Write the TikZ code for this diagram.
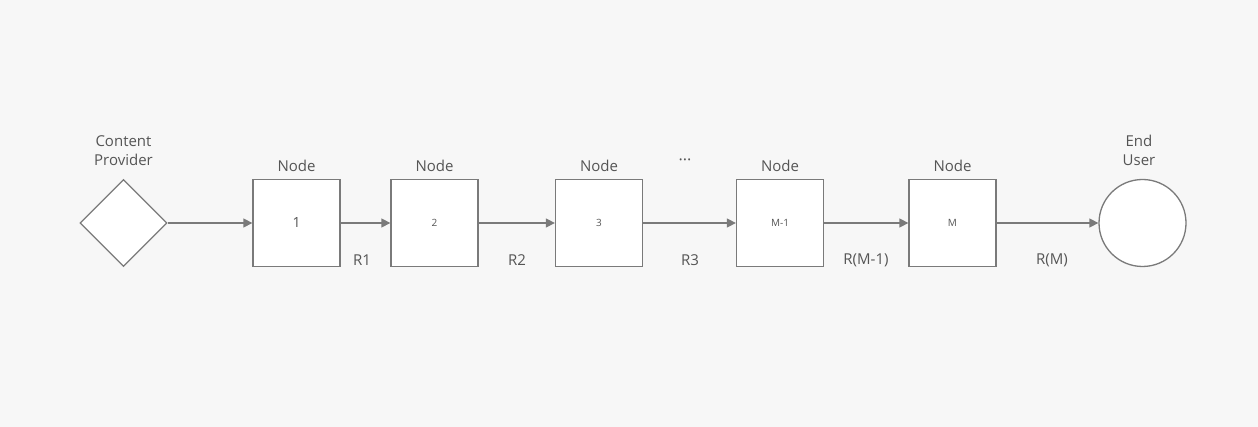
\documentclass[tikz,border=0pt]{standalone}
\usepackage{fontspec}
\setmainfont{Open Sans}
\usetikzlibrary{shapes.geometric,arrows.meta}
\definecolor{bg}{HTML}{F7F7F7}
\definecolor{ln}{HTML}{7A7A7A}
\definecolor{tx}{HTML}{555555}
\tikzset{
  box/.style={draw=ln, line width=1.3pt, fill=white, minimum width=87pt, minimum height=87pt, inner sep=0pt, text=tx, font=\fontsize{10}{12}\selectfont},
  lbl/.style={text=tx, font=\fontsize{15}{19}\selectfont, align=center, inner sep=0pt},
  conn/.style={draw=ln, line width=1.3pt, -{Triangle[length=9pt,width=9pt]}},
}
\begin{document}
\begin{tikzpicture}[x=1pt,y=-1pt]
\fill[bg] (0,0) rectangle (1258,427);
\useasboundingbox (0,0) rectangle (1258,427);
\node[draw=ln, line width=1.3pt, fill=white, diamond, minimum width=87pt, minimum height=87pt, inner sep=0pt] (cp) at (123.5,223) {};
\node[box, font=\fontsize{14}{17}\selectfont] (n1) at (296.5,223) {1};
\node[box] (n2) at (434.5,223) {2};
\node[box] (n3) at (599,223) {3};
\node[box] (nm1) at (780,223) {M-1};
\node[box] (nm) at (952.5,223) {M};
\node[draw=ln, line width=1.3pt, fill=white, circle, minimum size=87pt, inner sep=0pt] (eu) at (1142.5,223) {};
\node[lbl] (tcp) at (123.5,150.5) {Content\\Provider};
\node[lbl] (teu) at (1139,150.5) {End\\User};
\node[lbl] (l1) at (296.5,166) {Node};
\node[lbl] (l2) at (434.5,166) {Node};
\node[lbl] (l3) at (599,166) {Node};
\node[lbl] (dots) at (685,162) {\fontsize{16}{18}\selectfont ···};
\node[lbl] (lm1) at (780,166) {Node};
\node[lbl] (lm) at (952.5,166) {Node};
\draw[conn] (cp) -- (n1);
\draw[conn] (n1) -- (n2);
\draw[conn] (n2) -- (n3);
\draw[conn] (n3) -- (nm1);
\draw[conn] (nm1) -- (nm);
\draw[conn] (nm) -- (eu);
\node[lbl] (r1) at (362,260) {R1};
\node[lbl] (r2) at (517,260) {R2};
\node[lbl] (r3) at (690,260) {R3};
\node[lbl] (rm1) at (866,260) {R(M-1)};
\node[lbl] (rm) at (1052,260) {R(M)};
\end{tikzpicture}
\end{document}
